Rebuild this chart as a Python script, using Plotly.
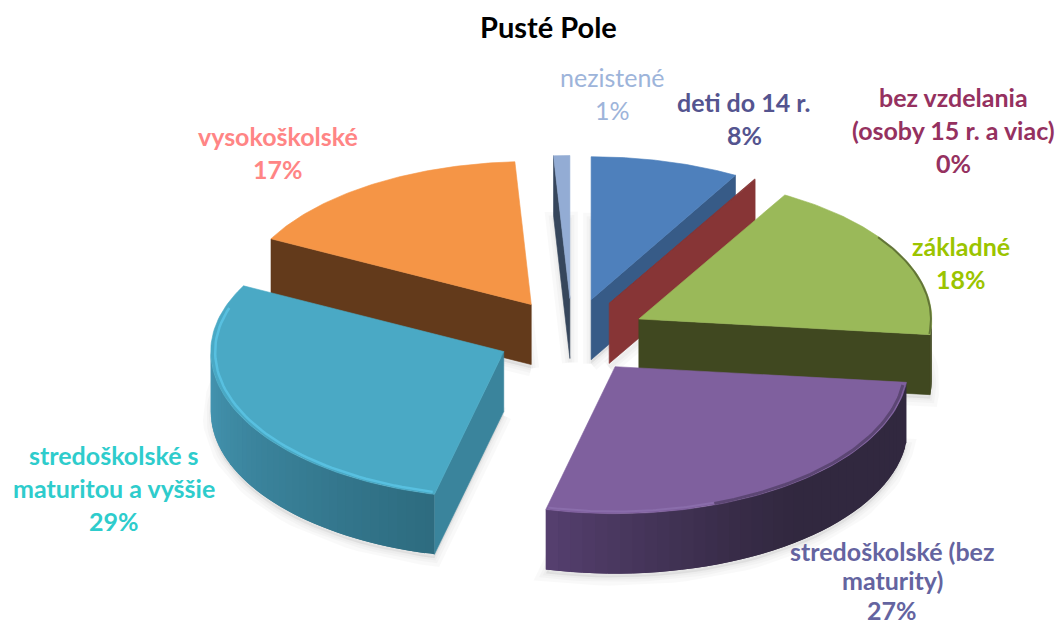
import numpy as np
import plotly.graph_objects as go

categories = ["deti do 14 r.", "bez vzdelania (osoby 15 r. a viac)", "základné",
              "stredoškolské (bez maturity)", "stredoškolské s maturitou a vyššie",
              "vysokoškolské", "nezistené"]
values = [8.2, 0.1, 18.4, 27.1, 28.8, 16.51, 0.89]
label_lines = [["deti do 14 r."], ["bez vzdelania", "(osoby 15 r. a viac)"], ["základné"],
               ["stredoškolské (bez", "maturity)"], ["stredoškolské s", "maturitou a vyššie"],
               ["vysokoškolské"], ["nezistené"]]
title = "Pusté Pole"

top_colors = ["#4E80BC", "#873536", "#9AB959", "#7F609E", "#4AA9C5", "#F59546", "#93ACD4"]
wall_colors = ["#375B87", "#873536", "#404820", "#3A2F55", "#3A849C", "#633A1B", "#36465C"]
outer_from = ["#375B87", "#873536", "#404820", "#31283F", "#4596B2", "#633A1B", "#36465C"]
outer_to = ["#375B87", "#873536", "#404820", "#553F6E", "#2E6C80", "#633A1B", "#36465C"]
text_colors = ["#54548F", "#953160", "#9BC400", "#6464A0", "#2ECCCC", "#FF8585", "#9DB4DA"]
label_pos = [(744, 118), (953, 130), (961, 262), (892, 580), (114, 488), (278, 152), (612, 93)]
line_steps = [33, 33, 33, 29.5, 33, 33, 33]
draw_order = [6, 5, 0, 1, 2, 4, 3]

CX, CY = 572, 336
RX = 293
RY_BACK, RY_FRONT = 143, 147
EXPLODE = 75
DEPTH = 60

total = sum(values)
edges = np.cumsum([0] + values) / total * 2 * np.pi


def project(r, a, off, drop=0.0):
    """Wedge polar coordinate -> page coordinate (tilted pie, nearer half slightly larger)."""
    c = np.cos(a)
    ry = np.where(c > 0, RY_BACK, RY_FRONT)
    return off[0] + RX * r * np.sin(a), off[1] - ry * r * c + drop


def rgb(c):
    return np.array([int(c[i:i + 2], 16) for i in (1, 3, 5)], float)


def mix(c1, c2, t):
    v = rgb(c1) * (1 - t) + rgb(c2) * t
    return "rgb(%d,%d,%d)" % tuple(v)


def poly(xs, ys, color, width=0.6):
    return go.Scatter(x=list(xs), y=list(ys), mode="lines", fill="toself", fillcolor=color,
                      line=dict(color=color, width=width), hoverinfo="skip", showlegend=False)


def rim(a0, a1, r, color, width):
    a = np.linspace(a0, a1, 60)
    x, y = project(r, a, off)
    return go.Scatter(x=x, y=y, mode="lines", hoverinfo="skip", showlegend=False,
                      line=dict(color=color, width=width))


fig = go.Figure()
offsets = []
for i in range(len(values)):
    mid = (edges[i] + edges[i + 1]) / 2
    offsets.append((CX + EXPLODE * np.sin(mid), CY - EXPLODE / 2 * np.cos(mid)))

# soft shadow under every slice
for i in draw_order:
    a = np.linspace(edges[i], edges[i + 1], 40)
    x, y = project(1, a, offsets[i], DEPTH + 4)
    xs = [offsets[i][0]] + list(x) + [offsets[i][0]]
    ys = [offsets[i][1] + DEPTH + 4] + list(y) + [offsets[i][1] + DEPTH + 4]
    for w in (16, 9, 4):
        fig.add_trace(go.Scatter(x=xs, y=ys, mode="lines", fill="toself",
                                 fillcolor="rgba(0,0,0,0.02)",
                                 line=dict(color="rgba(0,0,0,0.025)", width=w),
                                 hoverinfo="skip", showlegend=False))

for i in draw_order:
    a0, a1 = edges[i], edges[i + 1]
    off = offsets[i]
    # radial walls that face the viewer
    for ang, visible in ((a0, np.sin(a0) < -1e-6), (a1, np.sin(a1) > 1e-6)):
        if visible:
            ex, ey = project(1, ang, off)
            fig.add_trace(poly([off[0], ex, ex, off[0], off[0]],
                               [off[1], ey, ey + DEPTH, off[1] + DEPTH, off[1]], wall_colors[i]))
    # outer wall, split in overlapping strips for the gradient
    lo, hi = max(a0, np.pi / 2), min(a1, 3 * np.pi / 2)
    if hi > lo:
        grid = np.linspace(lo, hi, 41)
        for k in range(40):
            t = k / 39
            if i == 4:
                col = mix(outer_from[i], outer_to[i], 1 - t)
            elif i == 3:
                col = mix(outer_from[i], outer_to[i], max(0.0, (t - 0.45) / 0.55) ** 1.3)
            else:
                col = mix(outer_from[i], outer_to[i], t)
            g = grid[[k, min(k + 2, 40)]]
            xa, ya = project(1, g[0], off)
            xb, yb = project(1, g[1], off)
            fig.add_trace(poly([xa, xb, xb, xa, xa], [ya, yb, yb + DEPTH, ya + DEPTH, ya], col, 0))
    # top face
    a = np.linspace(a0, a1, 80)
    x, y = project(1, a, off)
    fig.add_trace(poly([off[0]] + list(x) + [off[0]], [off[1]] + list(y) + [off[1]], top_colors[i]))
    # bevel along the rim
    if i == 4:
        fig.add_trace(rim(a0 + 0.01, 2 * np.pi * 0.80, 0.985, "#58C0E0", 2.5))
    elif i == 3:
        fig.add_trace(rim(a0 + 0.02, np.radians(160), 0.99, "rgba(50,40,65,0.45)", 3))
        fig.add_trace(rim(np.radians(160), a1 - 0.005, 0.985, "#8A6DAB", 2))
    elif i == 2:
        fig.add_trace(rim(np.radians(55), a1 - 0.005, 0.997, "rgba(60,70,30,0.6)", 2))

annotations = []
for i, lines in enumerate(label_lines):
    pct = f"{round(values[i] / total * 100)}%"
    rows = lines + [pct]
    px, py = label_pos[i]
    for j, row in enumerate(rows):
        annotations.append(dict(x=px, y=py + (j - (len(rows) - 1) / 2) * line_steps[i], text=row,
                                xref="x", yref="y", showarrow=False, xanchor="center", yanchor="middle",
                                font=dict(family="Lato", size=25, color=text_colors[i],
                                          weight="normal" if i == 6 else "bold")))
annotations.append(dict(x=548, y=26, text=title, xref="x", yref="y", showarrow=False,
                        font=dict(family="Lato", size=29, color="#000000", weight="bold")))

fig.update_layout(width=1058, height=626, margin=dict(l=0, r=0, t=0, b=0),
                  paper_bgcolor="white", plot_bgcolor="white", showlegend=False,
                  xaxis=dict(range=[0, 1058], visible=False, fixedrange=True),
                  yaxis=dict(range=[626, 0], visible=False, fixedrange=True),
                  annotations=annotations)
fig.write_html("out.html", config={"displayModeBar": False},
               post_script="document.body.style.margin='0';document.documentElement.style.overflow='hidden';")
